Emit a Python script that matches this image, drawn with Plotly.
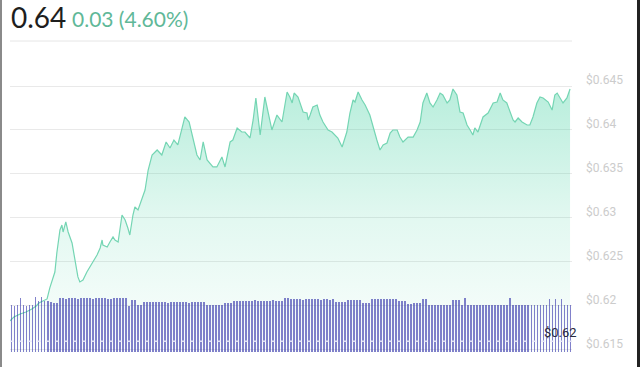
import plotly.graph_objects as go

# ---- data ----
minutes = [0,10,26,41,56,67,74,85,95,102,110,115,120,128,133,136,143,149,159,167,
           174,179,187,197,205,213,223,231,236,238,249,256,264,269,277,287,295,302,307,315,
           320,328,338,346,354,364,377,389,400,410,420,430,441,448,459,469,479,487,495,505,
           520,530,543,551,564,571,582,594,602,615,623,630,641,653,666,671,684,697,710,717,
           723,728,738,751,761,764,769,776,787,794,802,815,825,833,840,851,863,871,879,884,
           892,902,910,922,930,940,948,956,966,974,981,992,999,1007,1020,1033,1043,1051,1058,1068,
           1076,1084,1094,1102,1109,1120,1127,1135,1145,1153,1161,1171,1179,1186,1191,1199,1212,1225,1238,1248,
           1256,1263,1273,1281,1289,1294,1302,1312,1325,1332,1340,1350,1358,1366,1379,1389,1396,1402,1409,1417,
           1427,1435]
prices = [0.61830,0.61875,0.61909,0.61932,0.61966,0.62000,0.62034,0.62057,0.62080,0.62205,
          0.62318,0.62386,0.62602,0.62864,0.62920,0.62841,0.62955,0.62841,0.62716,0.62489,
          0.62330,0.62273,0.62295,0.62386,0.62443,0.62500,0.62580,0.62659,0.62750,0.62693,
          0.62670,0.62727,0.62784,0.62750,0.62727,0.63034,0.62977,0.62886,0.62807,0.63034,
          0.63125,0.63091,0.63205,0.63318,0.63545,0.63716,0.63773,0.63716,0.63864,0.63795,
          0.63886,0.63830,0.64023,0.64148,0.64091,0.63886,0.63716,0.63659,0.63864,0.63659,
          0.63580,0.63580,0.63693,0.63580,0.63864,0.63886,0.64023,0.63977,0.63977,0.63909,
          0.64114,0.64364,0.63943,0.64375,0.64080,0.64000,0.64170,0.64091,0.64432,0.64375,
          0.64307,0.64420,0.64375,0.64205,0.64193,0.64114,0.64170,0.64261,0.64284,0.64170,
          0.64091,0.64000,0.63977,0.63943,0.63909,0.63807,0.63977,0.64193,0.64341,0.64318,
          0.64432,0.64341,0.64284,0.64170,0.64034,0.63886,0.63773,0.63830,0.63852,0.63966,
          0.64000,0.64000,0.63920,0.63864,0.63920,0.63920,0.64000,0.64091,0.64307,0.64420,
          0.64307,0.64261,0.64341,0.64420,0.64398,0.64307,0.64341,0.64466,0.64398,0.64205,
          0.64193,0.64057,0.64000,0.63943,0.64023,0.63977,0.64148,0.64193,0.64307,0.64318,
          0.64420,0.64341,0.64307,0.64205,0.64114,0.64091,0.64136,0.64091,0.64057,0.64057,
          0.64148,0.64307,0.64375,0.64364,0.64318,0.64227,0.64398,0.64420,0.64364,0.64307,
          0.64364,0.64466]

volumes = ([47,46,47, 54, 47,46,47,47, 55, 51, 55, 51,51,50, 49,49,
            54,54,53,54,54,54,53,54,54,54,54,53,54,54,54,54,53,53,54,54,54,
            54,54, 46, 52,52, 47,47, 50,50,50,
            50,50,50,50,50,49,50,50,50,50,50,50,49,50,50,50,50,50,
            47,47,47,47,47,47, 49,49,49, 51,51,51,
            51,51,51,51,52,51,51,51,51,51,52,51,51,51, 54,54,
            53,53,53,53,52,53,53,53,53,53,52,53,53,52,53,
            50,50,50,50, 52,52,52,52,52, 49,49,49, 53,53,53,53,53, 53,53,53,53,
            51,51,51, 48,48, 49,49,49, 53,53, 47,47,47,47,47,47,47,47, 52,52,52,
            47, 54, 47,47,47,47,47,47,47,47,47,47,47,47,47,47, 54,
            47,47,47,47,47,47,47,47,47,47,47,47, 53, 47, 53, 47, 53, 47,47,47])
n_bars = len(volumes)
bar_step = 1440 / n_bars
bar_times = [(i + 0.5) * bar_step for i in range(n_bars)]

tick_vals = [0.615, 0.62, 0.625, 0.63, 0.635, 0.64, 0.645]
tick_text = ["$0.615", "$0.62", "$0.625", "$0.63", "$0.635", "$0.64", "$0.645"]

header_price = "0.64"
header_change = "0.03 (4.60%)"
last_label = "$0.62"

fig = go.Figure()
fig.add_trace(go.Scatter(
    x=minutes, y=prices, mode="lines",
    line=dict(color="#74d5b3", width=1.2),
    fill="tozeroy",
    fillgradient=dict(type="vertical", start=0.615, stop=0.6447,
                      colorscale=[[0, "rgba(64,208,160,0.02)"],
                                  [0.5, "rgba(64,208,160,0.15)"],
                                  [1, "rgba(64,208,160,0.37)"]]),
    hoverinfo="skip", showlegend=False))

fig.add_trace(go.Bar(
    x=bar_times, y=volumes, yaxis="y2", width=bar_step * 0.62,
    marker=dict(color="rgba(64,64,176,0.66)", line=dict(width=0)),
    hoverinfo="skip", showlegend=False))

fig.update_layout(
    width=640, height=367,
    margin=dict(l=10, r=68, t=50, b=15, autoexpand=False),
    paper_bgcolor="white", plot_bgcolor="white",
    bargap=0,
    xaxis=dict(range=[0, 1440], visible=False, fixedrange=True, automargin=False),
    yaxis=dict(range=[0.61477, 0.649091], side="right", automargin=False,
               tickvals=tick_vals, ticktext=tick_text,
               showgrid=True, gridcolor="#e9e9e9", gridwidth=1,
               zeroline=False, showline=False, ticks="",
               ticklabelstandoff=13, ticklabelshift=-6,
               tickfont=dict(family="Roboto", size=12, color="#cccccc")),
    yaxis2=dict(range=[0, 302], overlaying="y", visible=False, automargin=False),
    shapes=[
        dict(type="line", xref="paper", yref="y", x0=0, x1=1, y0=0.616, y1=0.616,
             line=dict(color="rgba(235,235,250,0.9)", width=1.5, dash="4px,5px"), layer="above"),
        dict(type="line", xref="paper", yref="paper", x0=0, x1=1, y0=1.0298, y1=1.0298,
             line=dict(color="#e6e6e6", width=1)),
        dict(type="rect", xref="paper", yref="paper", x0=-10/562, x1=-8/562, y0=-0.1, y1=1.25,
             line=dict(width=0), fillcolor="#8a8a8a"),
        dict(type="rect", xref="paper", yref="paper", x0=627/562, x1=632/562, y0=-0.1, y1=1.25,
             line=dict(width=0), fillcolor="#222222"),
    ],
    annotations=[
        dict(text=header_price, xref="paper", yref="paper", x=-1/562, y=1.108,
             xanchor="left", yanchor="middle", showarrow=False,
             font=dict(family="Lato", size=28, color="#1e1e1e")),
        dict(text=header_change, xref="paper", yref="paper", x=60/562, y=1.103,
             xanchor="left", yanchor="middle", showarrow=False,
             font=dict(family="Lato", size=21, color="#5fb898")),
        dict(text=last_label, xref="paper", yref="y", x=1, y=0.617, xshift=-12,
             xanchor="center", yanchor="middle", showarrow=False,
             font=dict(family="Roboto", size=13, color="#2a2a40")),
    ],
)

fig.write_html("out.html")
